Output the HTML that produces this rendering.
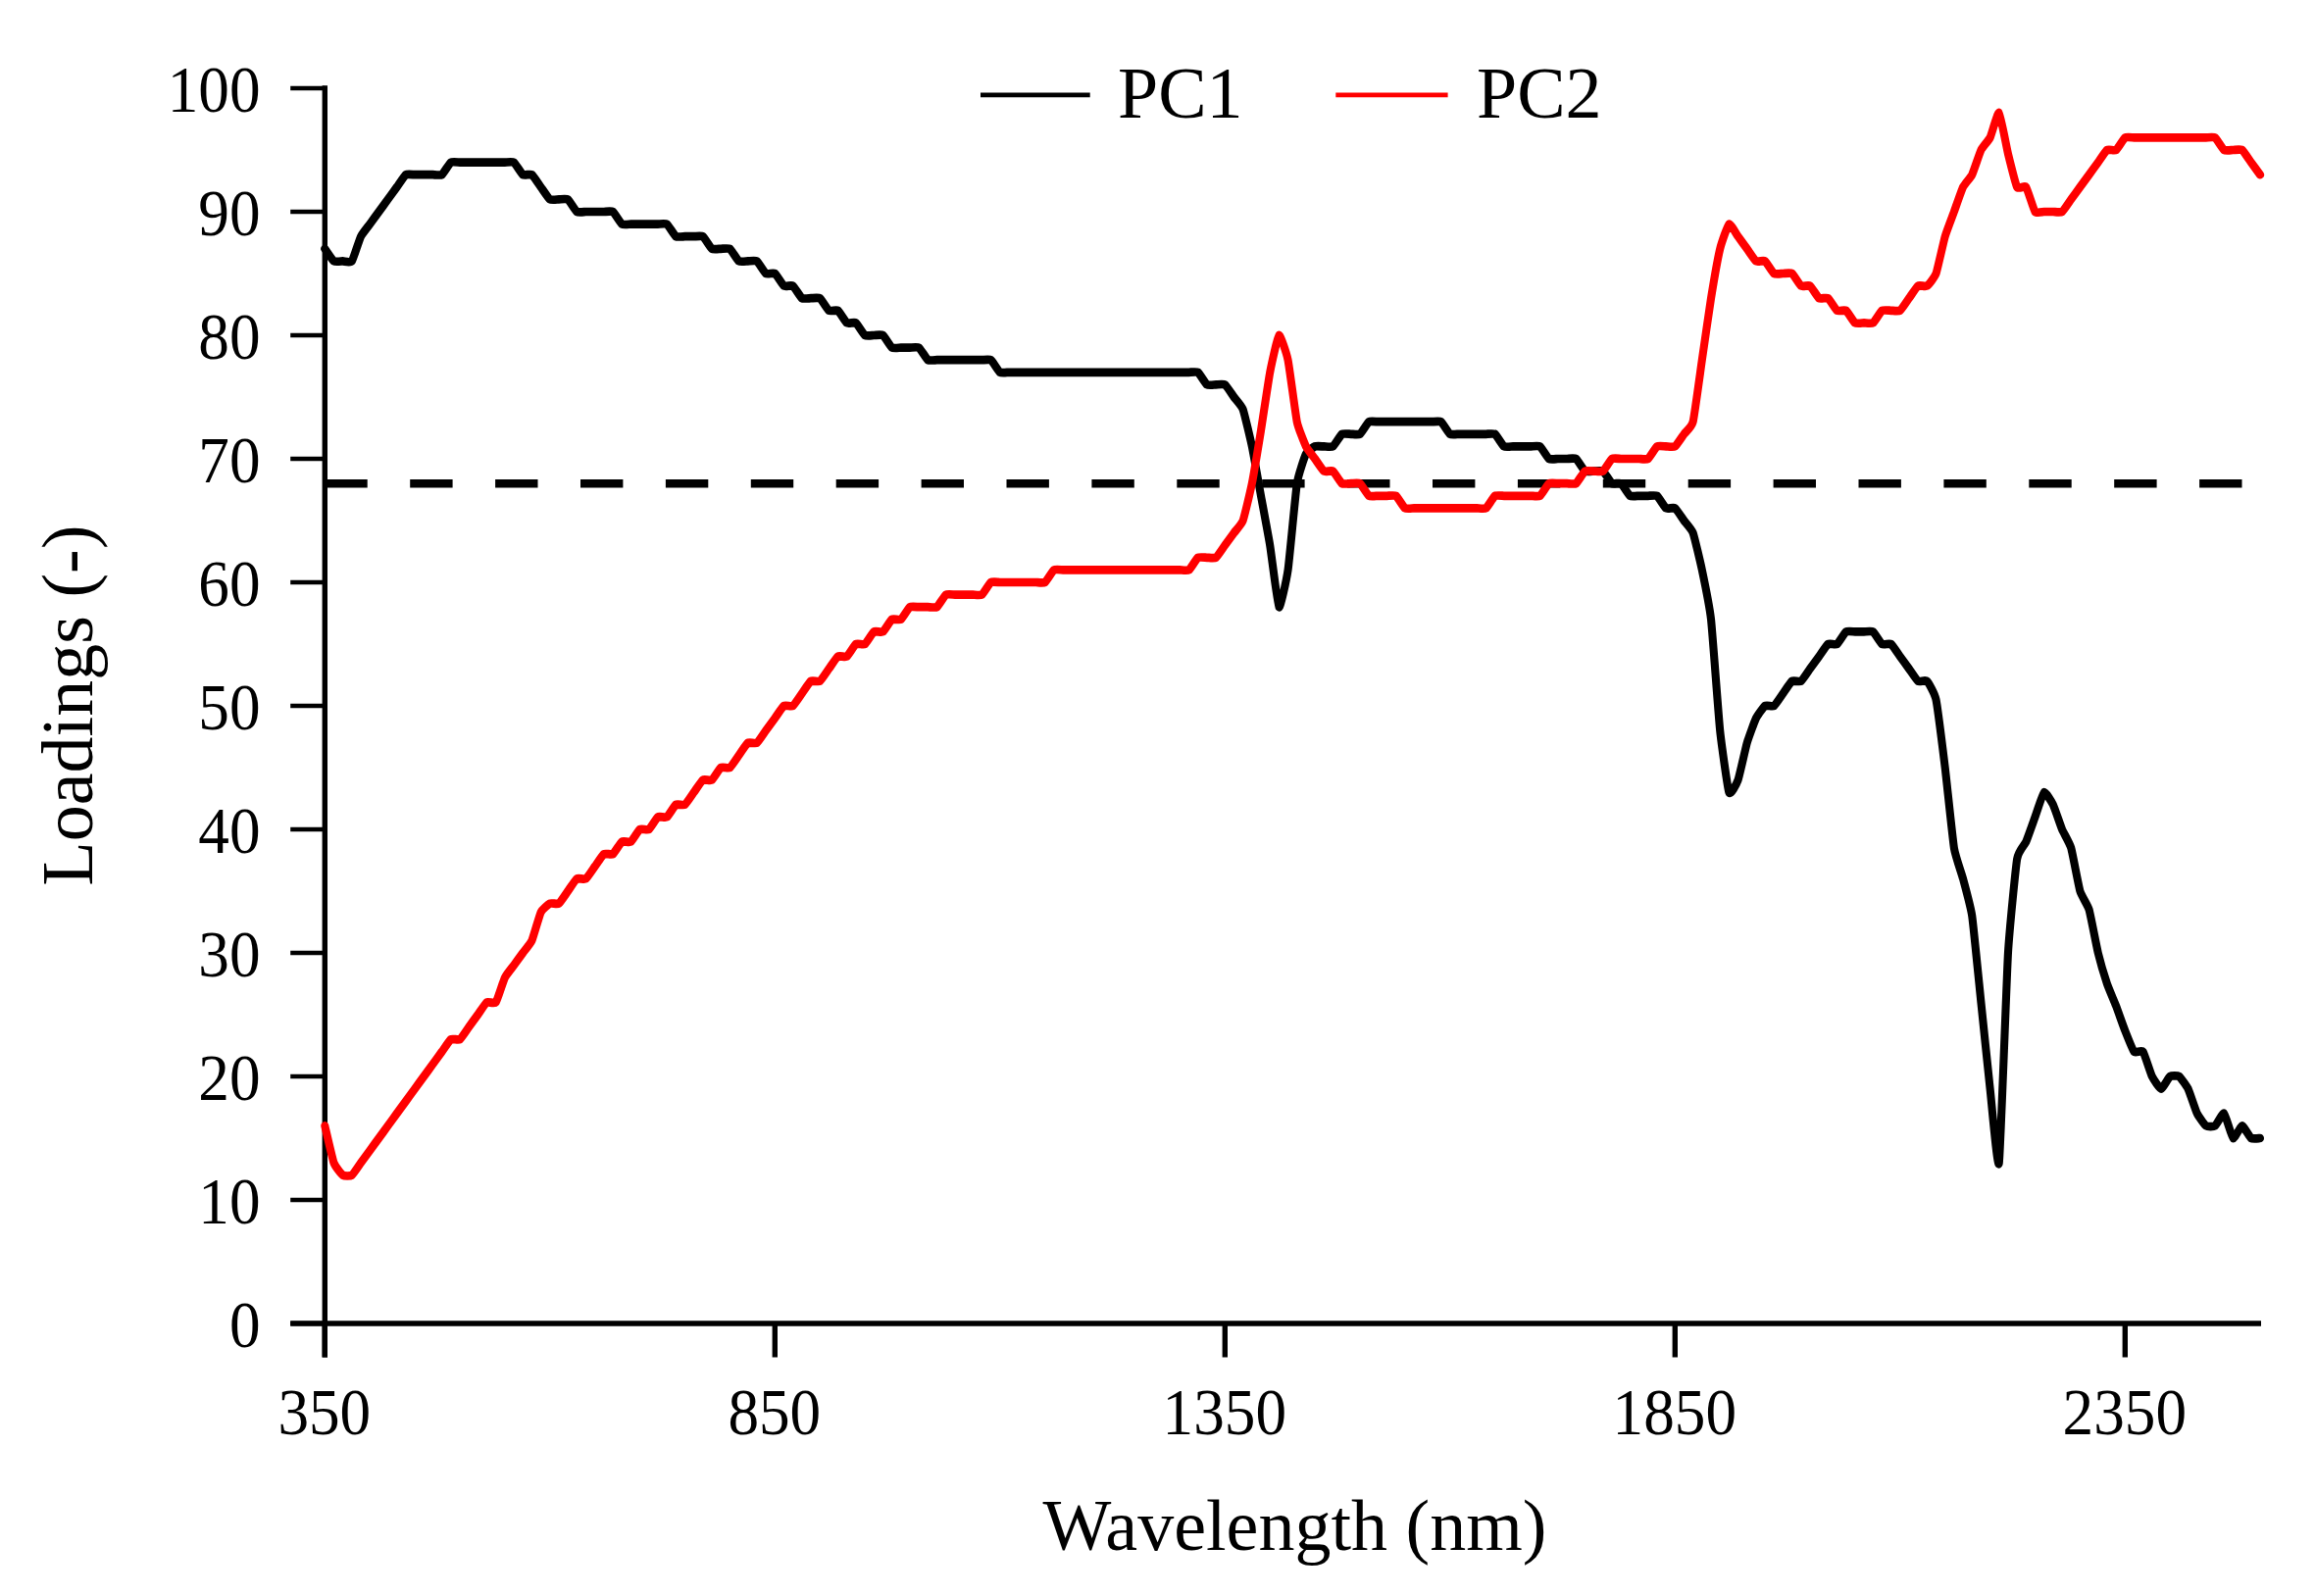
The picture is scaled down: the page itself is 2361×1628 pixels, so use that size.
<!DOCTYPE html>
<html><head><meta charset="utf-8"><title>PCA loadings</title>
<style>
html,body{margin:0;padding:0;background:#fff}
body{width:2361px;height:1628px;overflow:hidden}
svg{display:block}
text{font-family:"Liberation Serif",serif;fill:#000}
.tk{font-size:68px}
.lg{font-size:74px}
</style></head><body>
<svg width="2361" height="1628" viewBox="0 0 2361 1628">
<rect width="2361" height="1628" fill="#fff"/>
<line x1="331.3" y1="87.3" x2="331.3" y2="1384.5" stroke="#000" stroke-width="5.4"/>
<line x1="296.2" y1="1350.0" x2="2306" y2="1350.0" stroke="#000" stroke-width="5.4"/>
<line x1="296.2" y1="1350.0" x2="331.3" y2="1350.0" stroke="#000" stroke-width="4.7"/>
<text transform="translate(265.6 1373.6) scale(0.93 1)" text-anchor="end" class="tk">0</text>
<line x1="296.2" y1="1224.0" x2="331.3" y2="1224.0" stroke="#000" stroke-width="4.7"/>
<text transform="translate(265.6 1247.6) scale(0.93 1)" text-anchor="end" class="tk">10</text>
<line x1="296.2" y1="1098.0" x2="331.3" y2="1098.0" stroke="#000" stroke-width="4.7"/>
<text transform="translate(265.6 1121.6) scale(0.93 1)" text-anchor="end" class="tk">20</text>
<line x1="296.2" y1="972.0" x2="331.3" y2="972.0" stroke="#000" stroke-width="4.7"/>
<text transform="translate(265.6 995.6) scale(0.93 1)" text-anchor="end" class="tk">30</text>
<line x1="296.2" y1="846.0" x2="331.3" y2="846.0" stroke="#000" stroke-width="4.7"/>
<text transform="translate(265.6 869.6) scale(0.93 1)" text-anchor="end" class="tk">40</text>
<line x1="296.2" y1="720.0" x2="331.3" y2="720.0" stroke="#000" stroke-width="4.7"/>
<text transform="translate(265.6 743.6) scale(0.93 1)" text-anchor="end" class="tk">50</text>
<line x1="296.2" y1="594.0" x2="331.3" y2="594.0" stroke="#000" stroke-width="4.7"/>
<text transform="translate(265.6 617.6) scale(0.93 1)" text-anchor="end" class="tk">60</text>
<line x1="296.2" y1="468.0" x2="331.3" y2="468.0" stroke="#000" stroke-width="4.7"/>
<text transform="translate(265.6 491.6) scale(0.93 1)" text-anchor="end" class="tk">70</text>
<line x1="296.2" y1="342.0" x2="331.3" y2="342.0" stroke="#000" stroke-width="4.7"/>
<text transform="translate(265.6 365.6) scale(0.93 1)" text-anchor="end" class="tk">80</text>
<line x1="296.2" y1="216.0" x2="331.3" y2="216.0" stroke="#000" stroke-width="4.7"/>
<text transform="translate(265.6 239.6) scale(0.93 1)" text-anchor="end" class="tk">90</text>
<line x1="296.2" y1="90.0" x2="331.3" y2="90.0" stroke="#000" stroke-width="4.7"/>
<text transform="translate(265.6 113.6) scale(0.93 1)" text-anchor="end" class="tk">100</text>
<line x1="331.3" y1="1350.0" x2="331.3" y2="1384.5" stroke="#000" stroke-width="5.4"/>
<text transform="translate(330.8 1463.4) scale(0.93 1)" text-anchor="middle" class="tk">350</text>
<line x1="790.3" y1="1350.0" x2="790.3" y2="1384.5" stroke="#000" stroke-width="5.4"/>
<text transform="translate(789.8 1463.4) scale(0.93 1)" text-anchor="middle" class="tk">850</text>
<line x1="1249.3" y1="1350.0" x2="1249.3" y2="1384.5" stroke="#000" stroke-width="5.4"/>
<text transform="translate(1248.8 1463.4) scale(0.93 1)" text-anchor="middle" class="tk">1350</text>
<line x1="1708.3" y1="1350.0" x2="1708.3" y2="1384.5" stroke="#000" stroke-width="5.4"/>
<text transform="translate(1707.8 1463.4) scale(0.93 1)" text-anchor="middle" class="tk">1850</text>
<line x1="2167.3" y1="1350.0" x2="2167.3" y2="1384.5" stroke="#000" stroke-width="5.4"/>
<text transform="translate(2166.8 1463.4) scale(0.93 1)" text-anchor="middle" class="tk">2350</text>
<line x1="331.3" y1="493.2" x2="2306" y2="493.2" stroke="#000" stroke-width="8.6" stroke-dasharray="43.4 43.5"/>
<g transform="scale(0.93 1)" fill="none" stroke-width="8.7" stroke-linejoin="round" stroke-linecap="round">
<path d="M356.24 253.8C356.98 254.7 364.63 265.5 366.11 266.4C367.59 267.3 374.50 266.4 375.98 266.4C377.46 266.4 384.37 268.3 385.85 266.4C387.33 264.5 394.24 244.0 395.72 241.2C397.20 238.4 404.11 230.5 405.59 228.6C407.07 226.7 413.98 217.9 415.46 216.0C416.94 214.1 423.85 205.3 425.33 203.4C426.81 201.5 433.72 192.7 435.20 190.8C436.68 188.9 443.59 179.1 445.08 178.2C446.56 177.3 453.47 178.2 454.95 178.2C456.43 178.2 463.34 178.2 464.82 178.2C466.30 178.2 473.21 178.2 474.69 178.2C476.17 178.2 483.08 179.1 484.56 178.2C486.04 177.3 492.95 166.5 494.43 165.6C495.91 164.7 502.82 165.6 504.30 165.6C505.78 165.6 512.69 165.6 514.17 165.6C515.65 165.6 522.56 165.6 524.04 165.6C525.52 165.6 532.43 165.6 533.91 165.6C535.39 165.6 542.30 165.6 543.78 165.6C545.27 165.6 552.18 165.6 553.66 165.6C555.14 165.6 562.05 164.7 563.53 165.6C565.01 166.5 571.92 177.3 573.40 178.2C574.88 179.1 581.79 177.3 583.27 178.2C584.75 179.1 591.66 188.9 593.14 190.8C594.62 192.7 601.53 202.5 603.01 203.4C604.49 204.3 611.40 203.4 612.88 203.4C614.36 203.4 621.27 202.5 622.75 203.4C624.23 204.3 631.14 215.1 632.62 216.0C634.10 216.9 641.01 216.0 642.49 216.0C643.98 216.0 650.88 216.0 652.37 216.0C653.85 216.0 660.76 216.0 662.24 216.0C663.72 216.0 670.63 215.1 672.11 216.0C673.59 216.9 680.50 227.7 681.98 228.6C683.46 229.5 690.37 228.6 691.85 228.6C693.33 228.6 700.24 228.6 701.72 228.6C703.20 228.6 710.11 228.6 711.59 228.6C713.07 228.6 719.98 228.6 721.46 228.6C722.94 228.6 729.85 227.7 731.33 228.6C732.81 229.5 739.72 240.3 741.20 241.2C742.68 242.1 749.59 241.2 751.08 241.2C752.56 241.2 759.47 241.2 760.95 241.2C762.43 241.2 769.34 240.3 770.82 241.2C772.30 242.1 779.21 252.9 780.69 253.8C782.17 254.7 789.08 253.8 790.56 253.8C792.04 253.8 798.95 252.9 800.43 253.8C801.91 254.7 808.82 265.5 810.30 266.4C811.78 267.3 818.69 266.4 820.17 266.4C821.65 266.4 828.56 265.5 830.04 266.4C831.52 267.3 838.43 278.1 839.91 279.0C841.39 279.9 848.30 278.1 849.78 279.0C851.27 279.9 858.18 290.7 859.66 291.6C861.14 292.5 868.05 290.7 869.53 291.6C871.01 292.5 877.92 303.3 879.40 304.2C880.88 305.1 887.79 304.2 889.27 304.2C890.75 304.2 897.66 303.3 899.14 304.2C900.62 305.1 907.53 315.9 909.01 316.8C910.49 317.7 917.40 315.9 918.88 316.8C920.36 317.7 927.27 328.5 928.75 329.4C930.23 330.3 937.14 328.5 938.62 329.4C940.10 330.3 947.01 341.1 948.49 342.0C949.98 342.9 956.88 342.0 958.37 342.0C959.85 342.0 966.76 341.1 968.24 342.0C969.72 342.9 976.63 353.7 978.11 354.6C979.59 355.5 986.50 354.6 987.98 354.6C989.46 354.6 996.37 354.6 997.85 354.6C999.33 354.6 1006.24 353.7 1007.72 354.6C1009.20 355.5 1016.11 366.3 1017.59 367.2C1019.07 368.1 1025.98 367.2 1027.46 367.2C1028.94 367.2 1035.85 367.2 1037.33 367.2C1038.81 367.2 1045.72 367.2 1047.20 367.2C1048.68 367.2 1055.59 367.2 1057.08 367.2C1058.56 367.2 1065.47 367.2 1066.95 367.2C1068.43 367.2 1075.34 367.2 1076.82 367.2C1078.30 367.2 1085.21 366.3 1086.69 367.2C1088.17 368.1 1095.08 378.9 1096.56 379.8C1098.04 380.7 1104.95 379.8 1106.43 379.8C1107.91 379.8 1114.82 379.8 1116.30 379.8C1117.78 379.8 1124.69 379.8 1126.17 379.8C1127.65 379.8 1134.56 379.8 1136.04 379.8C1137.52 379.8 1144.43 379.8 1145.91 379.8C1147.39 379.8 1154.30 379.8 1155.78 379.8C1157.27 379.8 1164.18 379.8 1165.66 379.8C1167.14 379.8 1174.05 379.8 1175.53 379.8C1177.01 379.8 1183.92 379.8 1185.40 379.8C1186.88 379.8 1193.79 379.8 1195.27 379.8C1196.75 379.8 1203.66 379.8 1205.14 379.8C1206.62 379.8 1213.53 379.8 1215.01 379.8C1216.49 379.8 1223.40 379.8 1224.88 379.8C1226.36 379.8 1233.27 379.8 1234.75 379.8C1236.23 379.8 1243.14 379.8 1244.62 379.8C1246.10 379.8 1253.01 379.8 1254.49 379.8C1255.98 379.8 1262.88 379.8 1264.37 379.8C1265.85 379.8 1272.76 379.8 1274.24 379.8C1275.72 379.8 1282.63 379.8 1284.11 379.8C1285.59 379.8 1292.50 379.8 1293.98 379.8C1295.46 379.8 1302.37 379.8 1303.85 379.8C1305.33 379.8 1312.24 378.9 1313.72 379.8C1315.20 380.7 1322.11 391.5 1323.59 392.4C1325.07 393.3 1331.98 392.4 1333.46 392.4C1334.94 392.4 1341.85 391.5 1343.33 392.4C1344.81 393.3 1351.72 403.1 1353.20 405.0C1354.68 406.9 1361.59 413.8 1363.08 417.6C1364.56 421.4 1371.47 448.8 1372.95 455.4C1374.43 462.0 1381.34 498.2 1382.82 505.8C1384.30 513.4 1391.21 547.7 1392.69 556.2C1394.17 564.7 1401.08 617.3 1402.56 619.2C1404.04 621.1 1410.95 590.9 1412.43 581.4C1413.91 571.9 1420.82 502.1 1422.30 493.2C1423.78 484.3 1430.69 465.8 1432.17 463.0C1433.65 460.1 1440.56 456.0 1442.04 455.4C1443.52 454.8 1450.43 455.4 1451.91 455.4C1453.39 455.4 1460.30 456.3 1461.78 455.4C1463.27 454.5 1470.18 443.7 1471.66 442.8C1473.14 441.9 1480.05 442.8 1481.53 442.8C1483.01 442.8 1489.92 443.7 1491.40 442.8C1492.88 441.9 1499.79 431.1 1501.27 430.2C1502.75 429.3 1509.66 430.2 1511.14 430.2C1512.62 430.2 1519.53 430.2 1521.01 430.2C1522.49 430.2 1529.40 430.2 1530.88 430.2C1532.36 430.2 1539.27 430.2 1540.75 430.2C1542.23 430.2 1549.14 430.2 1550.62 430.2C1552.10 430.2 1559.01 430.2 1560.49 430.2C1561.98 430.2 1568.88 430.2 1570.37 430.2C1571.85 430.2 1578.76 429.3 1580.24 430.2C1581.72 431.1 1588.63 441.9 1590.11 442.8C1591.59 443.7 1598.50 442.8 1599.98 442.8C1601.46 442.8 1608.37 442.8 1609.85 442.8C1611.33 442.8 1618.24 442.8 1619.72 442.8C1621.20 442.8 1628.11 442.8 1629.59 442.8C1631.07 442.8 1637.98 441.9 1639.46 442.8C1640.94 443.7 1647.85 454.5 1649.33 455.4C1650.81 456.3 1657.72 455.4 1659.20 455.4C1660.68 455.4 1667.59 455.4 1669.08 455.4C1670.56 455.4 1677.47 455.4 1678.95 455.4C1680.43 455.4 1687.34 454.5 1688.82 455.4C1690.30 456.3 1697.21 467.1 1698.69 468.0C1700.17 468.9 1707.08 468.0 1708.56 468.0C1710.04 468.0 1716.95 468.0 1718.43 468.0C1719.91 468.0 1726.82 467.1 1728.30 468.0C1729.78 468.9 1736.69 479.7 1738.17 480.6C1739.65 481.5 1746.56 480.6 1748.04 480.6C1749.52 480.6 1756.43 479.7 1757.91 480.6C1759.39 481.5 1766.30 492.3 1767.78 493.2C1769.27 494.1 1776.18 492.3 1777.66 493.2C1779.14 494.1 1786.05 504.9 1787.53 505.8C1789.01 506.7 1795.92 505.8 1797.40 505.8C1798.88 505.8 1805.79 505.8 1807.27 505.8C1808.75 505.8 1815.66 504.9 1817.14 505.8C1818.62 506.7 1825.53 517.5 1827.01 518.4C1828.49 519.3 1835.40 517.5 1836.88 518.4C1838.36 519.3 1845.27 529.1 1846.75 531.0C1848.23 532.9 1855.14 539.8 1856.62 543.6C1858.10 547.4 1865.01 574.8 1866.49 581.4C1867.98 588.0 1874.88 619.5 1876.37 631.8C1877.85 644.1 1884.76 732.0 1886.24 745.2C1887.72 758.4 1894.63 804.4 1896.11 808.2C1897.59 812.0 1904.50 799.4 1905.98 795.6C1907.46 791.8 1914.37 762.5 1915.85 757.8C1917.33 753.1 1924.24 735.4 1925.72 732.6C1927.20 729.8 1934.11 720.9 1935.59 720.0C1937.07 719.1 1943.98 720.9 1945.46 720.0C1946.94 719.1 1953.85 709.3 1955.33 707.4C1956.81 705.5 1963.72 695.7 1965.20 694.8C1966.68 693.9 1973.59 695.7 1975.08 694.8C1976.56 693.9 1983.47 684.1 1984.95 682.2C1986.43 680.3 1993.34 671.5 1994.82 669.6C1996.30 667.7 2003.21 657.9 2004.69 657.0C2006.17 656.1 2013.08 657.9 2014.56 657.0C2016.04 656.1 2022.95 645.3 2024.43 644.4C2025.91 643.5 2032.82 644.4 2034.30 644.4C2035.78 644.4 2042.69 644.4 2044.17 644.4C2045.65 644.4 2052.56 643.5 2054.04 644.4C2055.52 645.3 2062.43 656.1 2063.91 657.0C2065.39 657.9 2072.30 656.1 2073.78 657.0C2075.27 657.9 2082.18 667.7 2083.66 669.6C2085.14 671.5 2092.05 680.3 2093.53 682.2C2095.01 684.1 2101.92 693.9 2103.40 694.8C2104.88 695.7 2111.79 693.4 2113.27 694.8C2114.75 696.2 2121.66 707.1 2123.14 713.7C2124.62 720.3 2131.53 771.7 2133.01 783.0C2134.49 794.3 2141.40 856.4 2142.88 864.9C2144.36 873.4 2151.27 891.2 2152.75 896.4C2154.23 901.6 2161.14 924.8 2162.62 934.2C2164.10 943.7 2171.01 1009.2 2172.49 1022.4C2173.98 1035.6 2180.88 1098.3 2182.37 1110.6C2183.85 1122.9 2190.76 1196.6 2192.24 1186.2C2193.72 1175.8 2200.63 995.2 2202.11 972.0C2203.59 948.8 2210.50 884.7 2211.98 876.2C2213.46 867.7 2220.37 861.8 2221.85 858.6C2223.33 855.4 2230.24 837.2 2231.72 833.4C2233.20 829.6 2240.11 809.1 2241.59 808.2C2243.07 807.3 2249.98 818.0 2251.46 820.8C2252.94 823.6 2259.85 842.7 2261.33 846.0C2262.81 849.3 2269.72 860.2 2271.20 864.9C2272.68 869.6 2279.59 904.3 2281.08 909.0C2282.56 913.7 2289.47 923.2 2290.95 927.9C2292.43 932.6 2299.34 966.3 2300.82 972.0C2302.30 977.7 2309.21 999.4 2310.69 1003.5C2312.17 1007.6 2319.08 1022.6 2320.56 1026.2C2322.04 1029.8 2328.95 1047.9 2330.43 1051.4C2331.91 1054.9 2338.82 1071.2 2340.30 1072.8C2341.78 1074.4 2348.69 1070.9 2350.17 1072.8C2351.65 1074.7 2358.56 1095.2 2360.04 1098.0C2361.52 1100.8 2368.43 1110.6 2369.91 1110.6C2371.39 1110.6 2378.30 1098.9 2379.78 1098.0C2381.27 1097.1 2388.18 1097.1 2389.66 1098.0C2391.14 1098.9 2398.05 1107.8 2399.53 1110.6C2401.01 1113.4 2407.92 1133.0 2409.40 1135.8C2410.88 1138.6 2417.79 1147.5 2419.27 1148.4C2420.75 1149.3 2427.66 1149.3 2429.14 1148.4C2430.62 1147.5 2437.53 1134.9 2439.01 1135.8C2440.49 1136.7 2447.40 1160.1 2448.88 1161.0C2450.36 1161.9 2457.27 1148.4 2458.75 1148.4C2460.23 1148.4 2467.14 1160.1 2468.62 1161.0C2470.10 1161.9 2477.75 1161.0 2478.49 1161.0" stroke="#000"/>
<path d="M356.24 1148.4C356.98 1151.2 364.63 1182.4 366.11 1186.2C367.59 1190.0 374.50 1197.9 375.98 1198.8C377.46 1199.7 384.37 1199.7 385.85 1198.8C387.33 1197.9 394.24 1188.1 395.72 1186.2C397.20 1184.3 404.11 1175.5 405.59 1173.6C407.07 1171.7 413.98 1162.9 415.46 1161.0C416.94 1159.1 423.85 1150.3 425.33 1148.4C426.81 1146.5 433.72 1137.7 435.20 1135.8C436.68 1133.9 443.59 1125.1 445.08 1123.2C446.56 1121.3 453.47 1112.5 454.95 1110.6C456.43 1108.7 463.34 1099.9 464.82 1098.0C466.30 1096.1 473.21 1087.3 474.69 1085.4C476.17 1083.5 483.08 1074.7 484.56 1072.8C486.04 1070.9 492.95 1061.1 494.43 1060.2C495.91 1059.3 502.82 1061.1 504.30 1060.2C505.78 1059.3 512.69 1049.5 514.17 1047.6C515.65 1045.7 522.56 1036.9 524.04 1035.0C525.52 1033.1 532.43 1023.3 533.91 1022.4C535.39 1021.5 542.30 1024.3 543.78 1022.4C545.27 1020.5 552.18 1000.0 553.66 997.2C555.14 994.4 562.05 986.5 563.53 984.6C565.01 982.7 571.92 973.9 573.40 972.0C574.88 970.1 581.79 962.5 583.27 959.4C584.75 956.3 591.66 933.3 593.14 930.4C594.62 927.6 601.53 922.3 603.01 921.6C604.49 920.9 611.40 922.5 612.88 921.6C614.36 920.7 621.27 910.9 622.75 909.0C624.23 907.1 631.14 897.3 632.62 896.4C634.10 895.5 641.01 897.3 642.49 896.4C643.98 895.5 650.88 885.7 652.37 883.8C653.85 881.9 660.76 872.1 662.24 871.2C663.72 870.3 670.63 872.1 672.11 871.2C673.59 870.3 680.50 859.5 681.98 858.6C683.46 857.7 690.37 859.5 691.85 858.6C693.33 857.7 700.24 846.9 701.72 846.0C703.20 845.1 710.11 846.9 711.59 846.0C713.07 845.1 719.98 834.3 721.46 833.4C722.94 832.5 729.85 834.3 731.33 833.4C732.81 832.5 739.72 821.7 741.20 820.8C742.68 819.9 749.59 821.7 751.08 820.8C752.56 819.9 759.47 810.1 760.95 808.2C762.43 806.3 769.34 796.5 770.82 795.6C772.30 794.7 779.21 796.5 780.69 795.6C782.17 794.7 789.08 783.9 790.56 783.0C792.04 782.1 798.95 783.9 800.43 783.0C801.91 782.1 808.82 772.3 810.30 770.4C811.78 768.5 818.69 758.7 820.17 757.8C821.65 756.9 828.56 758.7 830.04 757.8C831.52 756.9 838.43 747.1 839.91 745.2C841.39 743.3 848.30 734.5 849.78 732.6C851.27 730.7 858.18 720.9 859.66 720.0C861.14 719.1 868.05 720.9 869.53 720.0C871.01 719.1 877.92 709.3 879.40 707.4C880.88 705.5 887.79 695.7 889.27 694.8C890.75 693.9 897.66 695.7 899.14 694.8C900.62 693.9 907.53 684.1 909.01 682.2C910.49 680.3 917.40 670.5 918.88 669.6C920.36 668.7 927.27 670.5 928.75 669.6C930.23 668.7 937.14 657.9 938.62 657.0C940.10 656.1 947.01 657.9 948.49 657.0C949.98 656.1 956.88 645.3 958.37 644.4C959.85 643.5 966.76 645.3 968.24 644.4C969.72 643.5 976.63 632.7 978.11 631.8C979.59 630.9 986.50 632.7 987.98 631.8C989.46 630.9 996.37 620.1 997.85 619.2C999.33 618.3 1006.24 619.2 1007.72 619.2C1009.20 619.2 1016.11 619.2 1017.59 619.2C1019.07 619.2 1025.98 620.1 1027.46 619.2C1028.94 618.3 1035.85 607.5 1037.33 606.6C1038.81 605.7 1045.72 606.6 1047.20 606.6C1048.68 606.6 1055.59 606.6 1057.08 606.6C1058.56 606.6 1065.47 606.6 1066.95 606.6C1068.43 606.6 1075.34 607.5 1076.82 606.6C1078.30 605.7 1085.21 594.9 1086.69 594.0C1088.17 593.1 1095.08 594.0 1096.56 594.0C1098.04 594.0 1104.95 594.0 1106.43 594.0C1107.91 594.0 1114.82 594.0 1116.30 594.0C1117.78 594.0 1124.69 594.0 1126.17 594.0C1127.65 594.0 1134.56 594.0 1136.04 594.0C1137.52 594.0 1144.43 594.9 1145.91 594.0C1147.39 593.1 1154.30 582.3 1155.78 581.4C1157.27 580.5 1164.18 581.4 1165.66 581.4C1167.14 581.4 1174.05 581.4 1175.53 581.4C1177.01 581.4 1183.92 581.4 1185.40 581.4C1186.88 581.4 1193.79 581.4 1195.27 581.4C1196.75 581.4 1203.66 581.4 1205.14 581.4C1206.62 581.4 1213.53 581.4 1215.01 581.4C1216.49 581.4 1223.40 581.4 1224.88 581.4C1226.36 581.4 1233.27 581.4 1234.75 581.4C1236.23 581.4 1243.14 581.4 1244.62 581.4C1246.10 581.4 1253.01 581.4 1254.49 581.4C1255.98 581.4 1262.88 581.4 1264.37 581.4C1265.85 581.4 1272.76 581.4 1274.24 581.4C1275.72 581.4 1282.63 581.4 1284.11 581.4C1285.59 581.4 1292.50 581.4 1293.98 581.4C1295.46 581.4 1302.37 582.3 1303.85 581.4C1305.33 580.5 1312.24 569.7 1313.72 568.8C1315.20 567.9 1322.11 568.8 1323.59 568.8C1325.07 568.8 1331.98 569.7 1333.46 568.8C1334.94 567.9 1341.85 558.1 1343.33 556.2C1344.81 554.3 1351.72 545.5 1353.20 543.6C1354.68 541.7 1361.59 534.8 1363.08 531.0C1364.56 527.2 1371.47 500.1 1372.95 493.2C1374.43 486.3 1381.34 447.5 1382.82 439.0C1384.30 430.5 1391.21 387.1 1392.69 379.8C1394.17 372.5 1401.08 342.9 1402.56 342.0C1404.04 341.1 1410.95 360.6 1412.43 367.2C1413.91 373.8 1420.82 423.6 1422.30 430.2C1423.78 436.8 1430.69 452.6 1432.17 455.4C1433.65 458.2 1440.56 466.1 1442.04 468.0C1443.52 469.9 1450.43 479.7 1451.91 480.6C1453.39 481.5 1460.30 479.7 1461.78 480.6C1463.27 481.5 1470.18 492.3 1471.66 493.2C1473.14 494.1 1480.05 493.2 1481.53 493.2C1483.01 493.2 1489.92 492.3 1491.40 493.2C1492.88 494.1 1499.79 504.9 1501.27 505.8C1502.75 506.7 1509.66 505.8 1511.14 505.8C1512.62 505.8 1519.53 505.8 1521.01 505.8C1522.49 505.8 1529.40 504.9 1530.88 505.8C1532.36 506.7 1539.27 517.5 1540.75 518.4C1542.23 519.3 1549.14 518.4 1550.62 518.4C1552.10 518.4 1559.01 518.4 1560.49 518.4C1561.98 518.4 1568.88 518.4 1570.37 518.4C1571.85 518.4 1578.76 518.4 1580.24 518.4C1581.72 518.4 1588.63 518.4 1590.11 518.4C1591.59 518.4 1598.50 518.4 1599.98 518.4C1601.46 518.4 1608.37 518.4 1609.85 518.4C1611.33 518.4 1618.24 518.4 1619.72 518.4C1621.20 518.4 1628.11 519.3 1629.59 518.4C1631.07 517.5 1637.98 506.7 1639.46 505.8C1640.94 504.9 1647.85 505.8 1649.33 505.8C1650.81 505.8 1657.72 505.8 1659.20 505.8C1660.68 505.8 1667.59 505.8 1669.08 505.8C1670.56 505.8 1677.47 505.8 1678.95 505.8C1680.43 505.8 1687.34 506.7 1688.82 505.8C1690.30 504.9 1697.21 494.1 1698.69 493.2C1700.17 492.3 1707.08 493.2 1708.56 493.2C1710.04 493.2 1716.95 493.2 1718.43 493.2C1719.91 493.2 1726.82 494.1 1728.30 493.2C1729.78 492.3 1736.69 481.5 1738.17 480.6C1739.65 479.7 1746.56 480.6 1748.04 480.6C1749.52 480.6 1756.43 481.5 1757.91 480.6C1759.39 479.7 1766.30 468.9 1767.78 468.0C1769.27 467.1 1776.18 468.0 1777.66 468.0C1779.14 468.0 1786.05 468.0 1787.53 468.0C1789.01 468.0 1795.92 468.0 1797.40 468.0C1798.88 468.0 1805.79 468.9 1807.27 468.0C1808.75 467.1 1815.66 456.3 1817.14 455.4C1818.62 454.5 1825.53 455.4 1827.01 455.4C1828.49 455.4 1835.40 456.3 1836.88 455.4C1838.36 454.5 1845.27 444.7 1846.75 442.8C1848.23 440.9 1855.14 435.9 1856.62 430.2C1858.10 424.5 1865.01 376.7 1866.49 367.2C1867.98 357.8 1874.88 312.7 1876.37 304.2C1877.85 295.7 1884.76 259.5 1886.24 253.8C1887.72 248.1 1894.63 229.5 1896.11 228.6C1897.59 227.7 1904.50 239.3 1905.98 241.2C1907.46 243.1 1914.37 251.9 1915.85 253.8C1917.33 255.7 1924.24 265.5 1925.72 266.4C1927.20 267.3 1934.11 265.5 1935.59 266.4C1937.07 267.3 1943.98 278.1 1945.46 279.0C1946.94 279.9 1953.85 279.0 1955.33 279.0C1956.81 279.0 1963.72 278.1 1965.20 279.0C1966.68 279.9 1973.59 290.7 1975.08 291.6C1976.56 292.5 1983.47 290.7 1984.95 291.6C1986.43 292.5 1993.34 303.3 1994.82 304.2C1996.30 305.1 2003.21 303.3 2004.69 304.2C2006.17 305.1 2013.08 315.9 2014.56 316.8C2016.04 317.7 2022.95 315.9 2024.43 316.8C2025.91 317.7 2032.82 328.5 2034.30 329.4C2035.78 330.3 2042.69 329.4 2044.17 329.4C2045.65 329.4 2052.56 330.3 2054.04 329.4C2055.52 328.5 2062.43 317.7 2063.91 316.8C2065.39 315.9 2072.30 316.8 2073.78 316.8C2075.27 316.8 2082.18 317.7 2083.66 316.8C2085.14 315.9 2092.05 306.1 2093.53 304.2C2095.01 302.3 2101.92 292.5 2103.40 291.6C2104.88 290.7 2111.79 292.5 2113.27 291.6C2114.75 290.7 2121.66 282.8 2123.14 279.0C2124.62 275.2 2131.53 245.9 2133.01 241.2C2134.49 236.5 2141.40 219.8 2142.88 216.0C2144.36 212.2 2151.27 193.6 2152.75 190.8C2154.23 188.0 2161.14 181.0 2162.62 178.2C2164.10 175.4 2171.01 155.8 2172.49 153.0C2173.98 150.2 2180.88 143.2 2182.37 140.4C2183.85 137.6 2190.76 114.0 2192.24 115.2C2193.72 116.4 2200.63 151.1 2202.11 156.8C2203.59 162.4 2210.50 188.2 2211.98 190.8C2213.46 193.4 2220.37 188.9 2221.85 190.8C2223.33 192.7 2230.24 214.1 2231.72 216.0C2233.20 217.9 2240.11 216.0 2241.59 216.0C2243.07 216.0 2249.98 216.0 2251.46 216.0C2252.94 216.0 2259.85 216.9 2261.33 216.0C2262.81 215.1 2269.72 205.3 2271.20 203.4C2272.68 201.5 2279.59 192.7 2281.08 190.8C2282.56 188.9 2289.47 180.1 2290.95 178.2C2292.43 176.3 2299.34 167.5 2300.82 165.6C2302.30 163.7 2309.21 153.9 2310.69 153.0C2312.17 152.1 2319.08 153.9 2320.56 153.0C2322.04 152.1 2328.95 141.3 2330.43 140.4C2331.91 139.5 2338.82 140.4 2340.30 140.4C2341.78 140.4 2348.69 140.4 2350.17 140.4C2351.65 140.4 2358.56 140.4 2360.04 140.4C2361.52 140.4 2368.43 140.4 2369.91 140.4C2371.39 140.4 2378.30 140.4 2379.78 140.4C2381.27 140.4 2388.18 140.4 2389.66 140.4C2391.14 140.4 2398.05 140.4 2399.53 140.4C2401.01 140.4 2407.92 140.4 2409.40 140.4C2410.88 140.4 2417.79 140.4 2419.27 140.4C2420.75 140.4 2427.66 139.5 2429.14 140.4C2430.62 141.3 2437.53 152.1 2439.01 153.0C2440.49 153.9 2447.40 153.0 2448.88 153.0C2450.36 153.0 2457.27 152.1 2458.75 153.0C2460.23 153.9 2467.14 163.7 2468.62 165.6C2470.10 167.5 2477.75 177.3 2478.49 178.2" stroke="#f00"/>
</g>
<line x1="1000" y1="96.8" x2="1111.7" y2="96.8" stroke="#000" stroke-width="4.7"/>
<text x="1140" y="120" class="lg">PC1</text>
<line x1="1362.3" y1="96.8" x2="1476.6" y2="96.8" stroke="#f00" stroke-width="4.7"/>
<text x="1506" y="120" class="lg">PC2</text>
<text x="1320.4" y="1581" text-anchor="middle" class="lg">Wavelength (nm)</text>
<text transform="translate(93.9 719.5) rotate(-90)" text-anchor="middle" class="lg">Loadings (-)</text>
</svg>
</body></html>
